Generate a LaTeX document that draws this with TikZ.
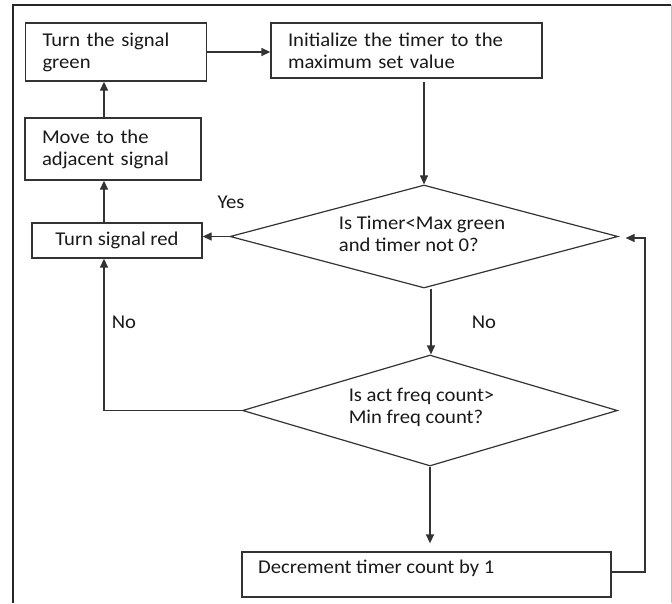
\documentclass[tikz,border=0pt]{standalone}
\usepackage{fontspec}
\setmainfont{Carlito}[FakeStretch=1.06]
\usetikzlibrary{arrows.meta,shapes.geometric}
\begin{document}
\begin{tikzpicture}[x=1pt,y=-1pt,
  every node/.style={font=\fontsize{19.5}{22}\selectfont, text=black!90},
  box/.style={draw=black!80, line width=1.3pt, rectangle, inner ysep=0pt},
  dia/.style={draw=black!80, line width=1.2pt, diamond, inner sep=0pt},
  arr/.style={draw=black!80, line width=1.3pt, -{Triangle[length=9pt,width=8pt]}},
  lbl/.style={inner sep=0pt}]
\useasboundingbox (0,0) rectangle (672,603);
% frame
\draw[black!85, line width=1.5pt] (13,603) -- (13,5) -- (671,5);
\draw[black!25, line width=1pt] (671,5) -- (671,603);
% boxes
\node[box, minimum width=181pt, minimum height=58pt, inner xsep=17pt, text width=147pt, align=left] (green) at (116,52) {Turn the signal\\green};
\node[box, minimum width=271pt, minimum height=55pt, inner xsep=17pt, text width=237pt, align=left] (init) at (406.5,50.5) {Initialize the timer to the\\maximum set value};
\node[box, minimum width=176pt, minimum height=62pt, inner xsep=17pt, text width=142pt, align=left] (move) at (113,149) {Move to the\\adjacent signal};
\node[box, minimum width=170pt, minimum height=35pt] (red) at (117,240.5) {Turn signal red};
\node[box, minimum width=369pt, minimum height=45pt] (dec) at (426.5,574.5) {};
\node[lbl, anchor=west] (dectext) at (258,568) {Decrement timer count by 1};
% diamonds
\node[dia, minimum width=388pt, minimum height=103pt] (d1) at (424,236.5) {};
\node[lbl, align=left] (d1text) at (422,234) {Is Timer<Max green\\and timer not 0?};
\node[dia, minimum width=375pt, minimum height=111pt] (d2) at (430,410.5) {};
\node[lbl, align=left] (d2text) at (421.5,407.5) {Is act freq count>\\Min freq count?};
% labels
\node[lbl] (yes) at (231,202) {Yes};
\node[lbl] (no1) at (484,322) {No};
\node[lbl] (no2) at (124,322) {No};
% helper coordinates
\coordinate (lx) at (104,0);
\coordinate (rx) at (645,0);
\coordinate (mx) at (431,0);
% connectors
\draw[arr] (green.east) -- (init.west |- green.east);
\draw[arr] (move.north -| lx) -- (green.south -| lx);
\draw[arr] (red.north -| lx) -- (move.south -| lx);
\draw[arr, shorten <=3pt] (init.south -| d1.north) -- (d1.north);
\draw[arr] (d1.west) -- (red.east |- d1.west);
\draw[arr] (d1.south -| mx) -- (d2.north -| mx);
\draw[arr, shorten >=8pt] (d2.south) -- (dec.north -| d2.south);
\draw[arr] (d2.west) -- (d2.west -| lx) -- (red.south -| lx);
\draw[arr, shorten >=7pt] (dec.east |- 0,572) -- (rx |- 0,572) -- (rx |- 0,238) -- (d1.east |- 0,238);
\end{tikzpicture}
\end{document}
